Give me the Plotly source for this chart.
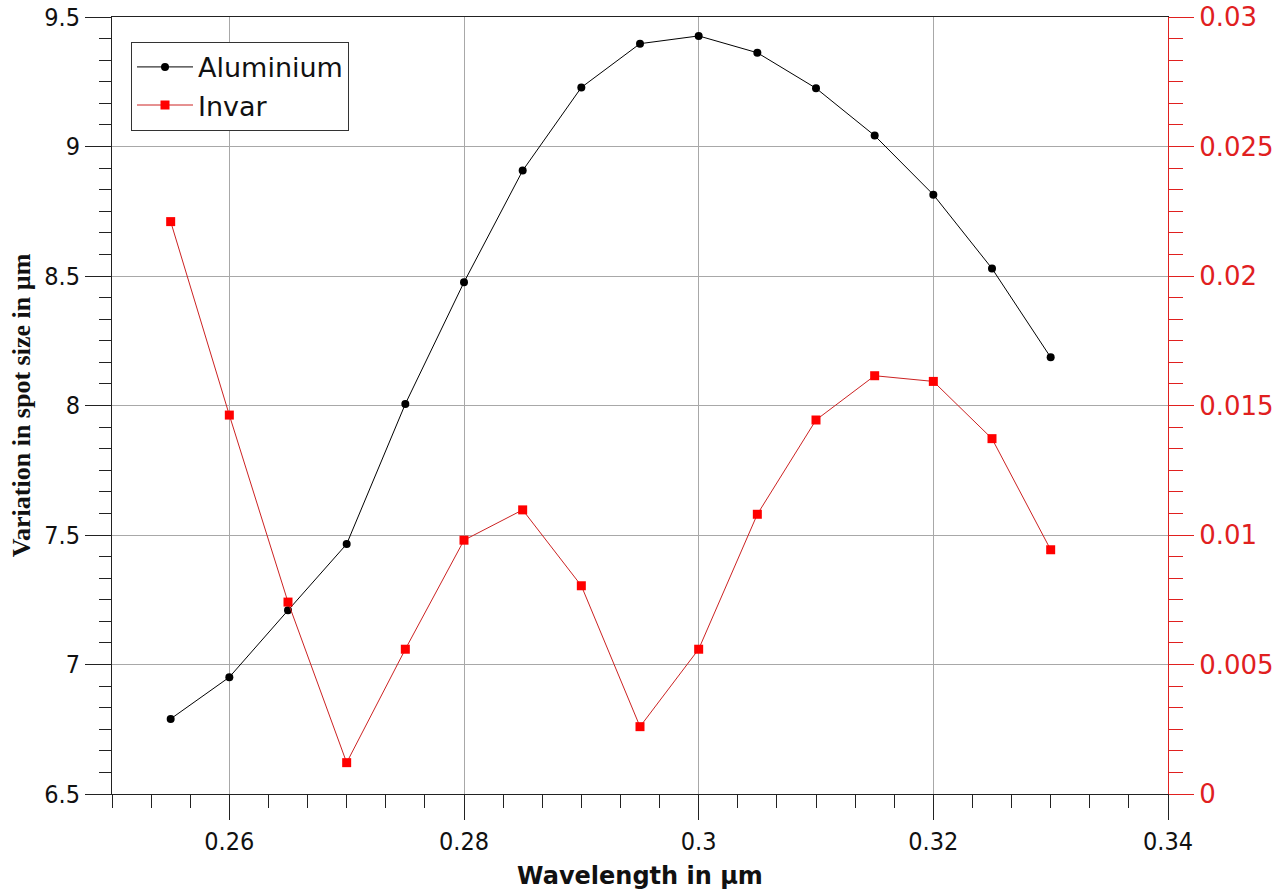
import plotly.graph_objects as go

wavelength = [0.255, 0.26, 0.265, 0.27, 0.275, 0.28, 0.285, 0.29, 0.295, 0.30,
              0.305, 0.31, 0.315, 0.32, 0.325, 0.33]
aluminium = [6.79, 6.951, 7.209, 7.465, 8.006, 8.476, 8.907, 9.228, 9.397, 9.427,
             9.362, 9.225, 9.042, 8.814, 8.529, 8.186]
invar = [0.0221, 0.01463, 0.00741, 0.00121, 0.00559, 0.0098, 0.01097, 0.00804, 0.0026,
         0.00559, 0.0108, 0.01444, 0.01615, 0.01593, 0.01372, 0.00943]

x_tickvals = [0.26, 0.28, 0.30, 0.32, 0.34]
x_ticktext = ["0.26", "0.28", "0.3", "0.32", "0.34"]
y_tickvals = [6.5, 7, 7.5, 8, 8.5, 9, 9.5]
y_ticktext = ["6.5", "7", "7.5", "8", "8.5", "9", "9.5"]
y2_tickvals = [0, 0.005, 0.01, 0.015, 0.02, 0.025, 0.03]
y2_ticktext = ["0", "0.005", "0.01", "0.015", "0.02", "0.025", "0.03"]

RED = "#e0201f"
GRID = "#a8a8a8"
TICKFONT = dict(family="DejaVu Sans Condensed, DejaVu Sans", size=25, color="#111111")

fig = go.Figure()
fig.add_trace(go.Scatter(
    x=wavelength, y=aluminium, name="Aluminium", mode="lines+markers",
    line=dict(color="black", width=1),
    marker=dict(symbol="circle", size=8, color="black"),
))
fig.add_trace(go.Scatter(
    x=wavelength, y=invar, name="Invar", mode="lines+markers", yaxis="y2",
    line=dict(color="#cc2222", width=1),
    marker=dict(symbol="square", size=9, color="#ff0000"),
))

fig.update_layout(
    width=1288, height=890,
    margin=dict(l=112, r=120, t=17, b=96, autoexpand=False),
    paper_bgcolor="white", plot_bgcolor="white",
    showlegend=True,
    legend=dict(
        x=0.018, y=0.968, xanchor="left", yanchor="top",
        bgcolor="white", bordercolor="#333333", borderwidth=1,
        font=dict(family="DejaVu Sans", size=27, color="#111111"),
        tracegroupgap=0, itemwidth=56,
    ),
    xaxis=dict(
        range=[0.25, 0.34], tickmode="array", tickvals=x_tickvals, ticktext=x_ticktext,
        automargin=False, ticklabeloverflow="allow",
        showline=True, linecolor="#222222", linewidth=1, mirror=True,
        ticks="outside", ticklen=25, tickcolor="#222222", tickwidth=1,
        showgrid=True, gridcolor=GRID, gridwidth=1, zeroline=False,
        tickfont=TICKFONT,
        minor=dict(tickmode="linear", tick0=0.25, dtick=0.02 / 6, ticks="outside",
                   ticklen=13, tickcolor="#222222", showgrid=False),
        title=dict(text="Wavelength in µm", standoff=12,
                   font=dict(family="DejaVu Sans", size=24, color="#111111", weight="bold")),
    ),
    yaxis=dict(
        range=[6.5, 9.5], tickmode="array", tickvals=y_tickvals, ticktext=y_ticktext,
        automargin=False, ticklabeloverflow="allow",
        showline=True, linecolor="#222222", linewidth=1,
        ticks="outside", ticklen=26, tickcolor="#222222", tickwidth=1,
        showgrid=True, gridcolor=GRID, gridwidth=1, zeroline=False,
        tickfont=TICKFONT,
        minor=dict(tickmode="linear", tick0=6.5, dtick=0.5 / 6, ticks="outside",
                   ticklen=12, tickcolor="#222222", showgrid=False),
        title=dict(text="Variation in spot size in µm", standoff=6,
                   font=dict(family="Liberation Serif", size=26, color="#111111", weight="bold")),
    ),
    yaxis2=dict(
        range=[0, 0.03], overlaying="y", side="right", anchor="x",
        automargin=False, ticklabeloverflow="allow",
        tickmode="array", tickvals=y2_tickvals, ticktext=y2_ticktext,
        showline=True, linecolor=RED, linewidth=1,
        ticks="outside", ticklen=25, tickcolor=RED, tickwidth=1,
        showgrid=False, zeroline=False,
        tickfont=dict(family="DejaVu Sans", size=26, color=RED),
        minor=dict(tickmode="linear", tick0=0, dtick=0.005 / 6, ticks="outside",
                   ticklen=14, tickcolor=RED, showgrid=False),
    ),
)

fig.write_html("out.html", config={"displayModeBar": False},
               post_script="document.body.style.margin='0';document.body.style.overflow='hidden';")
